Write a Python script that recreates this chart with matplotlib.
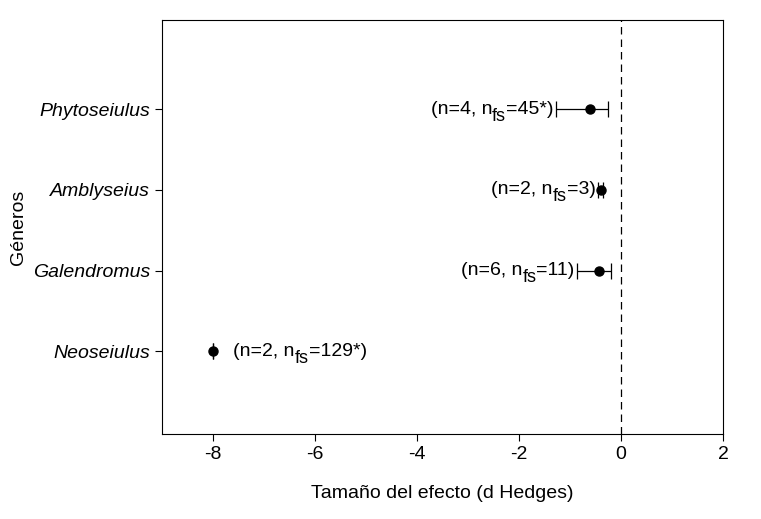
import numpy as np
import matplotlib
matplotlib.use("Agg")
import matplotlib.pyplot as plt

plt.rcParams["font.family"] = "Liberation Sans"
plt.rcParams["axes.unicode_minus"] = False

generos = ["Neoseiulus", "Galendromus", "Amblyseius", "Phytoseiulus"]
efecto = [-8.0, -0.43, -0.40, -0.61]
ci_low = [-8.0, -0.86, -0.45, -1.27]
ci_high = [-8.0, -0.20, -0.35, -0.25]
n_estudios = [2, 6, 2, 4]
n_fs = ["129*", "11", "3", "45*"]

y = np.arange(1, len(generos) + 1)
efecto = np.array(efecto)
err = [efecto - np.array(ci_low), np.array(ci_high) - efecto]

fig, ax = plt.subplots(figsize=(7.61, 5.19), dpi=100)
fig.subplots_adjust(left=0.213, right=0.950, top=0.961, bottom=0.164)

ax.errorbar(efecto, y, xerr=err, fmt="o", color="black", markersize=6.5,
            capsize=5.5, elinewidth=0.9, capthick=0.9)
ax.axvline(0, color="black", linestyle=(0, (6, 4)), linewidth=0.9)

fs = 14
sub = 5  # bajada del subindice (pt)
for i in range(len(generos)):
    p1 = "(n=%d, n" % n_estudios[i]
    p3 = "=%s)" % n_fs[i]
    if efecto[i] < -5:
        t1 = ax.text(efecto[i] + 0.4, y[i], p1, ha="left", va="center", fontsize=fs)
        t2 = ax.annotate("fs", xy=(1, 0), xycoords=t1, xytext=(0, -sub),
                         textcoords="offset points", ha="left", va="bottom", fontsize=fs - 1)
        ax.annotate(p3, xy=(1, 0), xycoords=t2, xytext=(0, sub),
                    textcoords="offset points", ha="left", va="bottom", fontsize=fs)
    else:
        t3 = ax.text(ci_low[i] - 0.05, y[i], p3, ha="right", va="center", fontsize=fs)
        t2 = ax.annotate("fs", xy=(0, 0), xycoords=t3, xytext=(0, -sub),
                         textcoords="offset points", ha="right", va="bottom", fontsize=fs - 1)
        ax.annotate(p1, xy=(0, 0), xycoords=t2, xytext=(0, sub),
                    textcoords="offset points", ha="right", va="bottom", fontsize=fs)

ax.set_xlim(-9, 2)
ax.set_ylim(-0.02, 5.1)
ax.set_xticks([-8, -6, -4, -2, 0, 2])
ax.set_yticks(y)
ax.set_yticklabels(generos, fontstyle="italic")
ax.tick_params(labelsize=fs, direction="out", length=5)
ax.set_xlabel("Tamaño del efecto (d Hedges)", fontsize=fs, labelpad=16)
ax.set_ylabel("Géneros", fontsize=fs, labelpad=4)

plt.savefig("out.png", dpi=100)
